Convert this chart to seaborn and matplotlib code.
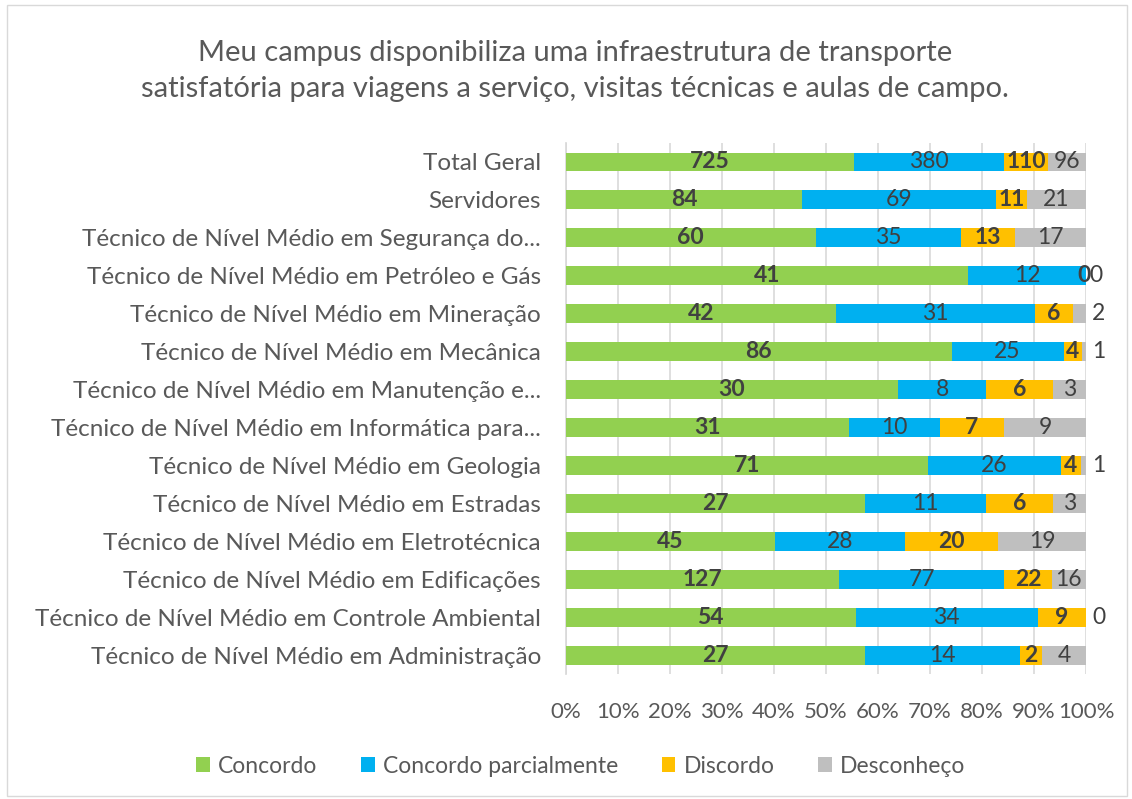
import numpy as np
import pandas as pd
import matplotlib
matplotlib.use("Agg")
import matplotlib.pyplot as plt
import seaborn as sns
from matplotlib.patches import Rectangle, Patch

# Dados
categorias = [
    "Total Geral",
    "Servidores",
    "Técnico de Nível Médio em Segurança do...",
    "Técnico de Nível Médio em Petróleo e Gás",
    "Técnico de Nível Médio em Mineração",
    "Técnico de Nível Médio em Mecânica",
    "Técnico de Nível Médio em Manutenção e...",
    "Técnico de Nível Médio em Informática para...",
    "Técnico de Nível Médio em Geologia",
    "Técnico de Nível Médio em Estradas",
    "Técnico de Nível Médio em Eletrotécnica",
    "Técnico de Nível Médio em Edificações",
    "Técnico de Nível Médio em Controle Ambiental",
    "Técnico de Nível Médio em Administração",
]
concordo = [725, 84, 60, 41, 42, 86, 30, 31, 71, 27, 45, 127, 54, 27]
concordo_parcial = [380, 69, 35, 12, 31, 25, 8, 10, 26, 11, 28, 77, 34, 14]
discordo = [110, 11, 13, 0, 6, 4, 6, 7, 4, 6, 20, 22, 9, 2]
desconheco = [96, 21, 17, 0, 2, 1, 3, 9, 1, 3, 19, 16, 0, 4]

series = ["Concordo", "Concordo parcialmente", "Discordo", "Desconheço"]
cores = ["#92D050", "#00B0F0", "#FFC000", "#BFBFBF"]

sns.set_theme(style="white")
plt.rcParams["font.family"] = ["Lato", "DejaVu Sans"]

df = pd.DataFrame({"categoria": categorias, "Concordo": concordo,
                   "Concordo parcialmente": concordo_parcial,
                   "Discordo": discordo, "Desconheço": desconheco})
totais = df[series].sum(axis=1)
frac = df[series].div(totais, axis=0)
cum = frac.cumsum(axis=1)

fig = plt.figure(figsize=(11.32, 7.99), dpi=100)
ax = fig.add_axes([0.5, 0.1564, 0.4594, 0.6646])

# barras empilhadas: desenhar do acumulado maior para o menor
for s, c in reversed(list(zip(series, cores))):
    sns.barplot(x=cum[s].values, y=df["categoria"], color=c, orient="h",
                width=0.5, ax=ax, saturation=1, linewidth=0, zorder=3)

# rótulos de valores
for i in range(len(df)):
    for j, s in enumerate(series):
        v = df.loc[i, s]
        f = frac.loc[i, s]
        centro = cum.loc[i, s] - f / 2
        bold = j in (0, 2)
        if j == 3 and f < 0.03:
            x, ha = 1.012, "left"
            if df.loc[i, "Discordo"] == 0 and v == 0:
                x = 1.006
        elif j == 2 and v == 0:
            x, ha = 0.996, "center"
        else:
            x, ha = centro, "center"
        ax.text(x, i, str(v), ha=ha, va="center", fontsize=16.5,
                color="#404040", fontweight="bold" if bold else "normal",
                zorder=5, clip_on=False)

ax.set_xlim(0, 1)
ax.set_ylim(len(df) - 0.5, -0.5)
ticks = np.arange(0, 1.01, 0.1)
ax.set_xticks(ticks)
ax.set_xticklabels([f"{int(round(t*100))}%" for t in ticks])
ax.tick_params(axis="x", labelsize=16, labelcolor="#595959", length=0, pad=20)
ax.tick_params(axis="y", labelsize=17.5, labelcolor="#595959", length=0, pad=18)
ax.set_xlabel("")
ax.set_ylabel("")
ax.grid(axis="x", color="#D9D9D9", linewidth=1.2, zorder=0)
ax.set_axisbelow(True)
for side in ["top", "right", "bottom"]:
    ax.spines[side].set_visible(False)
ax.spines["left"].set_color("#D9D9D9")

fig.suptitle("Meu campus disponibiliza uma infraestrutura de transporte\n"
             "satisfatória para viagens a serviço, visitas técnicas e aulas de campo.",
             x=0.508, y=0.95, fontsize=21, color="#595959", linespacing=1.5)

handles = [Patch(facecolor=c, edgecolor="none", label=s) for s, c in zip(series, cores)]
fig.legend(handles=handles, loc="center", bbox_to_anchor=(0.513, 0.041), ncol=4,
           frameon=False, fontsize=16.5, handlelength=0.6, handleheight=0.6,
           handletextpad=0.35, columnspacing=1.9, labelcolor="#595959")

fig.patches.append(Rectangle((0.006, 0.004), 0.99, 0.99, transform=fig.transFigure,
                             fill=False, edgecolor="#D9D9D9", linewidth=1))

fig.savefig("out.png", dpi=100)
